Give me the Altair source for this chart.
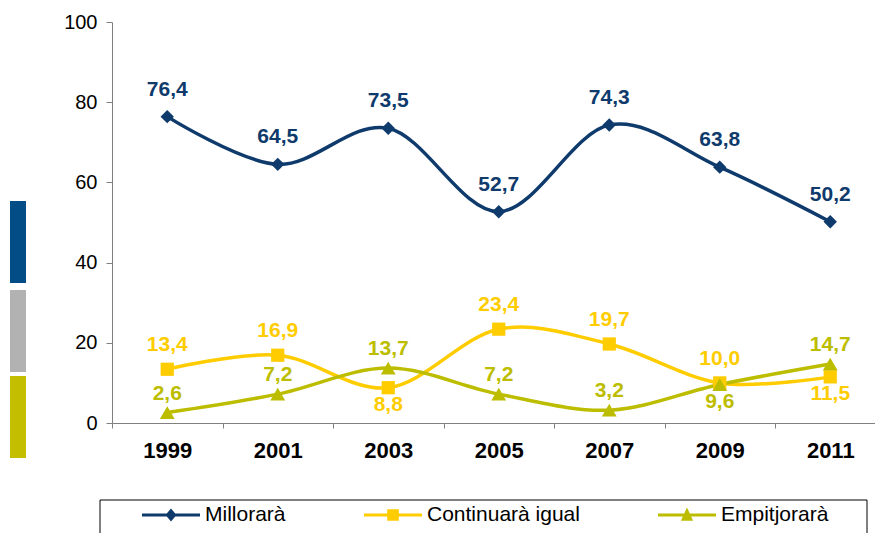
import altair as alt
import pandas as pd

# ---- data ----
years = ["1999", "2001", "2003", "2005", "2007", "2009", "2011"]
series_names = ["Millorarà", "Continuarà igual", "Empitjorarà"]
millorara = [76.4, 64.5, 73.5, 52.7, 74.3, 63.8, 50.2]
continuara = [13.4, 16.9, 8.8, 23.4, 19.7, 10.0, 11.5]
empitjorara = [2.6, 7.2, 13.7, 7.2, 3.2, 9.6, 14.7]
# which labels sit below their point
labels_below = {"Millorarà": [], "Continuarà igual": ["2003", "2011"], "Empitjorarà": ["2009"]}

# ---- styles ----
colors = ["#0E3A6C", "#FFCC00", "#BDBD00"]
marker_shapes = ["diamond", "square", "triangle-up"]
marker_sizes = [180, 175, 220]
label_dy_above = [-27, -24, -19]
label_dy_below = 17
deco_colors = ["#034D87", "#B2B2B2", "#C3BE00"]
FONT = "Liberation Sans"

# legend symbols: line segment + marker (unit box -1..1)
legend_paths = [
    "M-1,-0.055L1,-0.055L1,0.055L-1,0.055Z M0,-0.22L0.19,0L0,0.22L-0.19,0Z",
    "M-1,-0.055L1,-0.055L1,0.055L-1,0.055Z M-0.2,-0.2L0.2,-0.2L0.2,0.2L-0.2,0.2Z",
    "M-1,-0.055L1,-0.055L1,0.055L-1,0.055Z M0,-0.26L0.21,0.2L-0.21,0.2Z",
]

rows = []
for name, vals in zip(series_names, [millorara, continuara, empitjorara]):
    for yr, v in zip(years, vals):
        rows.append({
            "year": yr, "series": name, "value": v,
            "label": f"{v:.1f}".replace(".", ","),
            "below": yr in labels_below[name],
        })
df = pd.DataFrame(rows)

color_scale = alt.Scale(domain=series_names, range=colors)

x_enc = alt.X(
    "year:N", sort=years, title=None, bandPosition=0.5,
    scale=alt.Scale(type="band", range=[0, 773.5], paddingInner=0, paddingOuter=0),
    axis=alt.Axis(
        tickBand="extent", labelFont=FONT, labelFontSize=22, labelFontWeight="bold",
        labelColor="black", labelPadding=12, tickSize=5, tickColor="#808080",
        domainColor="#808080", labelAngle=0, grid=False,
    ),
)
y_enc = alt.Y(
    "value:Q", title=None,
    scale=alt.Scale(domain=[0, 100], nice=False),
    axis=alt.Axis(
        values=[0, 20, 40, 60, 80, 100], labelFont=FONT, labelFontSize=20,
        labelColor="black", labelPadding=9, tickSize=6, tickColor="#808080",
        domainColor="#808080", grid=False,
    ),
)

base = alt.Chart(df)
layers = []

# decorative side bars
deco_y = [(179, 261), (268, 350), (354, 436)]
for c, (y1, y2) in zip(deco_colors, deco_y):
    layers.append(
        alt.Chart(alt.Data(values=[{"k": 1}])).mark_rect(color=c).encode(
            x=alt.value(-102), x2=alt.value(-86), y=alt.value(y1), y2=alt.value(y2)
        )
    )

# legend frame
layers.append(
    alt.Chart(alt.Data(values=[{"k": 1}])).mark_rect(
        filled=False, stroke="black", strokeWidth=1
    ).encode(x=alt.value(-12), x2=alt.value(755), y=alt.value(478), y2=alt.value(515))
)

for i, name in enumerate(series_names):
    sub = base.transform_filter(alt.datum.series == name)
    layers.append(
        sub.mark_line(interpolate="cardinal", strokeWidth=3.5, color=colors[i]).encode(
            x=x_enc, y=y_enc
        )
    )
for i, name in enumerate(series_names):
    sub = base.transform_filter(alt.datum.series == name)
    layers.append(
        sub.mark_point(shape=marker_shapes[i], filled=True, size=marker_sizes[i],
                       opacity=1, color=colors[i]).encode(x=x_enc, y=y_enc)
    )
    layers.append(
        sub.transform_filter("!datum.below").mark_text(
            font=FONT, fontSize=21, fontWeight="bold", color=colors[i],
            dy=label_dy_above[i], baseline="middle",
        ).encode(x=x_enc, y=y_enc, text="label:N")
    )
    layers.append(
        sub.transform_filter("datum.below").mark_text(
            font=FONT, fontSize=21, fontWeight="bold", color=colors[i],
            dy=label_dy_below, baseline="middle",
        ).encode(x=x_enc, y=y_enc, text="label:N")
    )

legend = alt.Legend(
    title=None, orient="none", legendX=30, legendY=464, direction="horizontal",
    labelFont=FONT, labelFontSize=21, labelColor="black", labelOffset=5,
    labelLimit=400, symbolSize=3364, symbolStrokeWidth=0, columnPadding=78,
    padding=0, symbolOffset=0,
)
layers.append(
    base.transform_filter("false").mark_point(filled=True, opacity=1).encode(
        x=x_enc, y=y_enc,
        color=alt.Color("series:N", scale=color_scale, legend=legend),
        shape=alt.Shape("series:N", scale=alt.Scale(domain=series_names, range=legend_paths),
                        legend=legend),
    )
)

chart = alt.layer(*layers).properties(
    width=763, height=401,
    padding={"left": 104, "top": 14, "right": 0, "bottom": 110},
    autosize=alt.AutoSizeParams(type="none"),
).configure_view(stroke=None)

chart.save("out.html", embed_options={"renderer": "svg", "actions": False})
